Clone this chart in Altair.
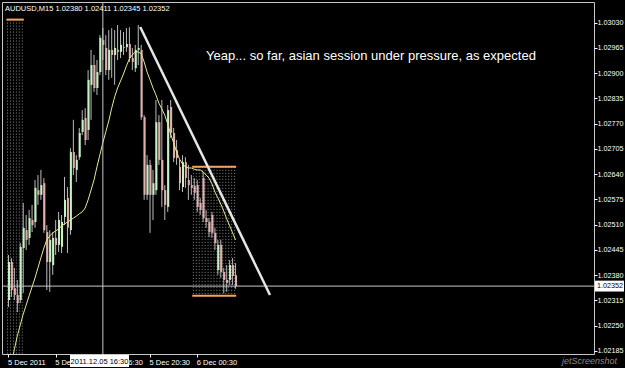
import altair as alt
import pandas as pd

symbol = "AUDUSD,M15"

bar_open = [1.02316,1.02414,1.02347,1.02329,1.02316,1.02450,1.02496,1.02476,1.02522,1.02517,
1.02599,1.02587,1.02617,1.02491,1.02414,1.02406,1.02476,1.02458,1.02453,1.02530,
1.02579,1.02496,1.02697,1.02651,1.02684,1.02749,1.02785,1.02754,1.02870,1.02921,
1.02862,1.02903,1.02985,1.02965,1.02908,1.02960,1.02947,1.02960,1.02955,1.02967,
1.02967,1.02975,1.02939,1.02913,1.02960,1.02960,1.02787,1.02587,1.02664,1.02587,
1.02599,1.02774,1.02677,1.02599,1.02556,1.02813,1.02746,1.02702,1.02659,1.02607,
1.02671,1.02625,1.02612,1.02610,1.02612,1.02566,1.02630,1.02527,1.02517,1.02535,
1.02489,1.02393,1.02458,1.02388,1.02368,1.02368,1.02406,1.02380]

bar_close = [1.02414,1.02342,1.02329,1.02308,1.02453,1.02502,1.02471,1.02527,1.02509,1.02605,
1.02587,1.02612,1.02496,1.02414,1.02471,1.02476,1.02458,1.02522,1.02517,1.02574,
1.02502,1.02697,1.02656,1.02677,1.02746,1.02780,1.02728,1.02883,1.02921,1.02862,
1.02903,1.02991,1.02973,1.02908,1.02960,1.02947,1.02965,1.02955,1.02973,1.02965,
1.02975,1.02939,1.02929,1.02960,1.02965,1.02787,1.02587,1.02664,1.02587,1.02617,
1.02774,1.02677,1.02599,1.02561,1.02805,1.02746,1.02682,1.02682,1.02617,1.02671,
1.02630,1.02612,1.02605,1.02592,1.02556,1.02548,1.02527,1.02517,1.02491,1.02489,
1.02463,1.02458,1.02388,1.02368,1.02360,1.02406,1.02378,1.02352]

bar_high = [1.02432,1.02424,1.02399,1.02368,1.02463,1.02566,1.02535,1.02548,1.02561,1.02625,
1.02638,1.02651,1.02630,1.02509,1.02496,1.02491,1.02522,1.02543,1.02535,1.02633,
1.02607,1.02707,1.02780,1.02689,1.02759,1.02805,1.02810,1.02908,1.02960,1.02947,
1.02934,1.02998,1.03016,1.02998,1.03011,1.03016,1.03011,1.03024,1.03011,1.03006,
1.03016,1.03018,1.02965,1.02973,1.03024,1.02973,1.02792,1.02689,1.02677,1.02651,
1.02831,1.02792,1.02831,1.02612,1.02818,1.02831,1.02759,1.02728,1.02677,1.02689,
1.02684,1.02664,1.02638,1.02630,1.02625,1.02579,1.02646,1.02548,1.02527,1.02543,
1.02502,1.02471,1.02471,1.02399,1.02406,1.02419,1.02424,1.02411]

bar_low = [1.02298,1.02324,1.02316,1.02285,1.02308,1.02334,1.02445,1.02458,1.02491,1.02502,
1.02561,1.02574,1.02489,1.02342,1.02337,1.02381,1.02432,1.02440,1.02437,1.02509,
1.02437,1.02484,1.02638,1.02620,1.02677,1.02741,1.02715,1.02728,1.02780,1.02852,
1.02844,1.02895,1.02934,1.02895,1.02883,1.02888,1.02870,1.02934,1.02939,1.02947,
1.02955,1.02929,1.02908,1.02903,1.02921,1.02780,1.02574,1.02574,1.02489,1.02522,
1.02587,1.02664,1.02556,1.02522,1.02543,1.02733,1.02671,1.02664,1.02599,1.02594,
1.02605,1.02574,1.02587,1.02574,1.02543,1.02535,1.02517,1.02502,1.02478,1.02476,
1.02445,1.02381,1.02373,1.02334,1.02337,1.02355,1.02355,1.02345]

ma_values = [1.0211,1.0215,1.02189,1.02224,1.02252,1.02280,1.02303,1.02327,1.02350,1.02373,
1.02399,1.02425,1.02450,1.02471,1.02481,1.02489,1.02494,1.02499,1.02507,1.02512,
1.02517,1.02522,1.02527,1.02532,1.02538,1.02543,1.02553,1.02574,1.02599,1.02625,
1.02659,1.02690,1.02721,1.02749,1.02777,1.02810,1.02839,1.02862,1.02880,1.02898,
1.02919,1.02937,1.02947,1.02955,1.02955,1.02950,1.02929,1.02903,1.02883,1.02862,
1.02844,1.02823,1.02808,1.02792,1.02769,1.02743,1.02721,1.02697,1.02679,1.02666,
1.02659,1.02656,1.02656,1.02653,1.02651,1.02651,1.02646,1.02638,1.02630,1.02615,
1.02594,1.02579,1.02563,1.02545,1.02525,1.02507,1.02489,1.02471]

time_tick_bars = [0, 16, 32, 48, 64]
time_tick_labels = ["5 Dec 2011", "5 Dec 12:30", "5 Dec 16:30", "5 Dec 20:30", "6 Dec 00:30"]
price_ticks = [1.02185, 1.02250, 1.02315, 1.02380, 1.02445, 1.02510, 1.02575,
               1.02640, 1.02705, 1.02770, 1.02835, 1.02900, 1.02965, 1.03030]

crosshair_bar = 32
crosshair_label = "2011.12.05 16:30"

trend_bars = [44.67, 88.67]
trend_prices = [1.03019, 1.02329]

session_first_bar = [-1, 62]
session_last_bar = [4, 76]
session_high = [1.03038, 1.02659]
session_low = [1.0205, 1.02327]

note_text = "Yeap... so far, asian session under pressure, as expected"
note_bar = 67
note_price = 1.02934

# ---------------------------------------------------------------
BG = "#000000"
WICK = "#bcbcbc"
BULL = "#c6f2c2"
BEAR = "#e2aeae"
MA_COLOR = "#e8e890"
ORANGE = "#f4a460"
FONT = "Liberation Sans"

n = len(bar_open)
df = pd.DataFrame({"i": list(range(n)), "o": bar_open, "h": bar_high,
                   "l": bar_low, "c": bar_close, "ma": ma_values})

xs = alt.Scale(domain=[-0.5, 196.8333], nice=False, zero=False)
ys = alt.Scale(domain=[1.021772, 1.030833], nice=False, zero=False)

label_expr = ""
for b, t in zip(time_tick_bars, time_tick_labels):
    label_expr += f"datum.value == {b} ? '{t}' : "
label_expr += "''"

x_axis = alt.Axis(values=time_tick_bars, labelExpr=label_expr, orient="bottom",
                  labelAlign="left", labelBaseline="top", labelColor="#ffffff",
                  labelFont=FONT, labelFontSize=7.5, labelPadding=1, labelOffset=-1,
                  labelFlush=False, labelOverlap=False, labelBound=False,
                  tickColor="#ffffff", tickSize=3, domain=False, grid=False, title=None)
y_axis = alt.Axis(values=price_ticks, format=".5f", orient="right",
                  labelColor="#ffffff", labelFont=FONT, labelFontSize=7.2,
                  labelPadding=0, labelFlush=False, labelOverlap=False, labelBound=False,
                  tickColor="#ffffff", tickSize=3, domain=False, grid=False, title=None)


def X(field, **kw):
    return alt.X(field, type="quantitative", scale=xs, axis=x_axis, **kw)


def Y(field, **kw):
    return alt.Y(field, type="quantitative", scale=ys, axis=y_axis, **kw)


# session boxes (dotted columns + orange high/low)
dot_rows = []
for k in range(len(session_first_bar)):
    for b in range(session_first_bar[k], session_last_bar[k] + 1):
        dot_rows.append({"i": b, "top": session_high[k], "bot": session_low[k]})
dots_df = pd.DataFrame(dot_rows)
dots = alt.Chart(dots_df).mark_rule(color="#8c8c8c", strokeWidth=1, strokeDash=[1, 2],
                                    xOffset=2, clip=True).encode(
    x=X("i"), y=Y("top"), y2="bot")

sess_df = pd.DataFrame({"x1": [b + 0.3 for b in session_first_bar],
                        "x2": [b + 1.2 for b in session_last_bar],
                        "hi": session_high, "lo": session_low})
sess_top = alt.Chart(sess_df).mark_rule(color=ORANGE, strokeWidth=2, clip=True).encode(
    x=X("x1"), x2="x2", y=Y("hi"))
sess_bot = alt.Chart(sess_df).mark_rule(color=ORANGE, strokeWidth=2, clip=True).encode(
    x=X("x1"), x2="x2", y=Y("lo"))

# candles
wicks = alt.Chart(df).mark_rule(color=WICK, strokeWidth=1).encode(
    x=X("i"), y=Y("l"), y2="h")
bodies = alt.Chart(df).mark_bar(size=2, xOffset=0.5).encode(
    x=X("i"), y=Y("o"), y2="c",
    color=alt.condition("datum.c >= datum.o", alt.value(BULL), alt.value(BEAR)))

ma_line = alt.Chart(df).mark_line(color=MA_COLOR, strokeWidth=1, clip=True).encode(
    x=X("i"), y=Y("ma"))

trend_df = pd.DataFrame({"i": trend_bars, "p": trend_prices})
trend = alt.Chart(trend_df).mark_line(color="#e6e6e6", strokeWidth=2.5).encode(
    x=X("i"), y=Y("p"))

last_df = pd.DataFrame({"p": [bar_close[-1]], "t": [f"{bar_close[-1]:.5f}"]})
price_line = alt.Chart(last_df).mark_rule(color="#c8c8c8", strokeWidth=1).encode(y=Y("p"))

cross_df = pd.DataFrame({"i": [crosshair_bar], "t": [crosshair_label]})
cross_line = alt.Chart(cross_df).mark_rule(color="#c8c8c8", strokeWidth=1).encode(x=X("i"))

price_tag_bg = alt.Chart(last_df).transform_calculate(
    hi="datum.p + 0.00014", lo="datum.p - 0.00014").mark_rect(color="#ffffff").encode(
    x=alt.value(593), x2=alt.value(622), y=Y("hi:Q"), y2="lo:Q")
price_tag_txt = alt.Chart(last_df).mark_text(color="#000000", font=FONT, fontSize=7.2,
                                             align="left", baseline="middle").encode(
    x=alt.value(595), y=Y("p"), text="t:N")

time_tag_bg = alt.Chart(cross_df).mark_rect(color="#ffffff").encode(
    x=alt.value(68), x2=alt.value(127), y=alt.value(353), y2=alt.value(365))
time_tag_txt = alt.Chart(cross_df).mark_text(color="#000000", font=FONT, fontSize=7.5,
                                             align="center", baseline="middle").encode(
    x=alt.value(97.5), y=alt.value(359.5), text="t:N")

header = f"{symbol}  {bar_open[-1]:.5f} {bar_high[-1]:.5f} {bar_low[-1]:.5f} {bar_close[-1]:.5f}"
head_df = pd.DataFrame({"t": [header]})
head_txt = alt.Chart(head_df).mark_text(color="#ffffff", font=FONT, fontSize=7.5,
                                        align="left", baseline="middle").encode(
    x=alt.value(3), y=alt.value(6.5), text="t:N")

note_df = pd.DataFrame({"i": [note_bar], "p": [note_price], "t": [note_text]})
note = alt.Chart(note_df).mark_text(color="#ffffff", font=FONT, fontSize=13,
                                    align="left", baseline="alphabetic").encode(
    x=X("i"), y=Y("p"), text="t:N")

wm_df = pd.DataFrame({"t": ["jetScreenshot"]})
wm = alt.Chart(wm_df).mark_text(color="#8a8a8a", font=FONT, fontSize=9, fontStyle="italic",
                                align="left", baseline="middle").encode(
    x=alt.value(560), y=alt.value(359), text="t:N")

chart = alt.layer(
    dots, sess_top, sess_bot, wicks, bodies, ma_line, price_line, cross_line, trend,
    note, head_txt, price_tag_bg, price_tag_txt, time_tag_bg, time_tag_txt, wm
).properties(
    width=592, height=352,
    padding={"left": 2, "top": 2, "right": 31, "bottom": 14},
    autosize=alt.AutoSizeParams(type="none"),
    background=BG,
).configure_view(stroke="#c8c8c8", strokeWidth=1)

chart.save("out.html", embed_options={"renderer": "svg", "actions": False})
